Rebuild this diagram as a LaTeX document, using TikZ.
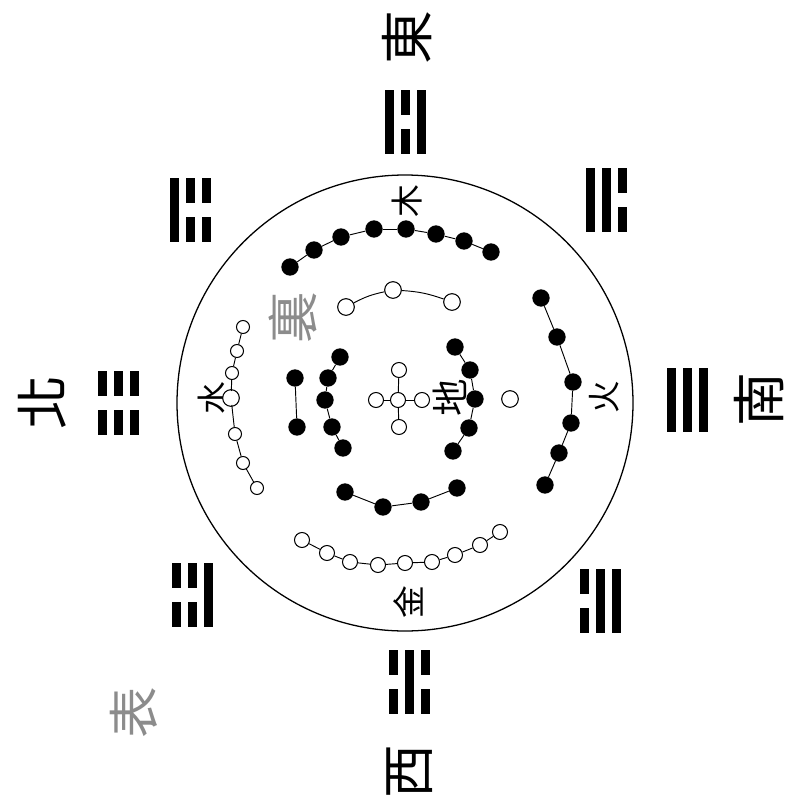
\documentclass[tikz,border=0pt]{standalone}
\usepackage{fontspec}
\newfontfamily\cjk{Noto Sans CJK TC}
\usetikzlibrary{positioning}

\newcommand{\yao}[3]{%
  \ifnum#3=1
    \draw[yaoline] ({#1},{#2-32}) -- ({#1},{#2+32});
  \else
    \draw[yaoline] ({#1},{#2-32}) -- ({#1},{#2-7});
    \draw[yaoline] ({#1},{#2+7}) -- ({#1},{#2+32});
  \fi}

\begin{document}
\begin{tikzpicture}[
    x=0.03cm, y=-0.03cm,
    hei/.style={circle, fill=black, inner sep=0pt, minimum size=0.52cm},
    bai/.style={circle, draw, line width=0.9pt, fill=white, inner sep=0pt, minimum size=0.5cm},
    baimid/.style={bai, minimum size=0.45cm},
    baismall/.style={bai, minimum size=0.39cm},
    chain/.style={line width=0.8pt},
    yaoline/.style={line width=0.27cm},
    fang/.style={font=\cjk\fontsize{46}{46}\selectfont, rotate=90, inner sep=0pt},
    xing/.style={font=\cjk\fontsize{28}{28}\selectfont, rotate=90, inner sep=0pt},
    biaozhu/.style={font=\cjk\fontsize{44}{44}\selectfont, rotate=90, inner sep=0pt, text=black!45}
]
    \useasboundingbox (0,0) rectangle (790,803);
    \draw[line width=1.1pt] (405,403) circle[radius=228];

    % eight trigrams
    \foreach \cx/\cy/\a/\b/\c in {405/122/1/0/1, 606/200/1/1/0, 190/210/1/0/0, 118/403/0/0/0,
                                  687/400/1/1/1, 192/595/0/0/1, 600/601/0/1/1, 409/682/0/1/0} {
        \foreach \k/\t in {-1/\a, 0/\b, 1/\c} {
            \yao{\cx+16*\k}{\cy}{\t}
        }
    }

    \node[fang] (dong) at (407,38)  {東};
    \node[fang] (nan)  at (759,400) {南};
    \node[fang] (xi)   at (410,772) {西};
    \node[fang] (bei)  at (42,403)  {北};

    \node[xing] (mu)   at (407,201) {木};
    \node[xing] (huo)  at (604,397) {火};
    \node[xing] (jin)  at (408,602) {金};
    \node[xing] (shui) at (213,398) {水};
    \node[xing, font=\cjk\fontsize{32}{32}\selectfont] (di) at (450,398) {地};

    \node[biaozhu] (li)   at (293,318) {裏};
    \node[biaozhu] (biao) at (134,713) {表};

    % wood: eight black, three white
    \foreach \p [count=\i] in {(290,267),(314,250),(341,237),(374,229),(406,229),(436,234),(464,241),(491,252)}
        \node[hei] (m\i) at \p {};
    \foreach \i [remember=\i as \j (initially 1)] in {2,...,8}
        \draw[chain] (m\j) -- (m\i);
    \foreach \p [count=\i] in {(346,307),(393,290),(452,302)}
        \node[bai] (mw\i) at \p {};
    \draw[chain] (mw1) to[bend left=8] (mw2);
    \draw[chain] (mw2) to[bend left=8] (mw3);

    % fire: six black
    \foreach \p [count=\i] in {(541,298),(557,337),(573,382),(571,423),(559,453),(545,485)}
        \node[hei] (h\i) at \p {};
    \foreach \i [remember=\i as \j (initially 1)] in {2,...,6}
        \draw[chain] (h\j) -- (h\i);

    % metal: nine white
    \foreach \p [count=\i] in {(302,540),(327,553),(350,562),(378,565),(405,563),(432,562),(455,555),(480,545),(500,532)}
        \node[baimid] (j\i) at \p {};
    \foreach \i [remember=\i as \j (initially 1)] in {2,...,9}
        \draw[chain] (j\j) -- (j\i);

    % water: white chain
    \foreach \p [count=\i] in {(243,327),(237,351),(232,373),(231,398),(235,434),(243,463),(257,488)}
        \node[baismall] (s\i) at \p {};
    \node[bai] at (s4) {};
    \foreach \i [remember=\i as \j (initially 1)] in {2,...,7}
        \draw[chain] (s\j) -- (s\i);

    % inner rings
    \node[hei] (e1) at (295,378) {};
    \node[hei] (e2) at (297,427) {};
    \draw[chain] (e1) -- (e2);

    \foreach \p [count=\i] in {(340,357),(328,378),(325,400),(332,427),(343,448)}
        \node[hei] (l\i) at \p {};
    \foreach \i [remember=\i as \j (initially 1)] in {2,...,5}
        \draw[chain] (l\j) -- (l\i);

    \foreach \p [count=\i] in {(455,347),(470,370),(475,399),(469,428),(453,451)}
        \node[hei] (r\i) at \p {};
    \foreach \i [remember=\i as \j (initially 1)] in {2,...,5}
        \draw[chain] (r\j) -- (r\i);

    \foreach \p [count=\i] in {(345,492),(383,507),(421,502),(457,488)}
        \node[hei] (b\i) at \p {};
    \foreach \i [remember=\i as \j (initially 1)] in {2,...,4}
        \draw[chain] (b\j) -- (b\i);

    \node[bai] (yi) at (510,399) {};

    % centre five
    \node[baimid] (c0) at (398,400) {};
    \node[baimid] (cn) at (399,370) {};
    \node[baimid] (cs) at (399,427) {};
    \node[baimid] (cw) at (376,400) {};
    \node[baimid] (ce) at (422,400) {};
    \foreach \n in {cn,cs,cw,ce}
        \draw[chain] (c0) -- (\n);
\end{tikzpicture}
\end{document}
